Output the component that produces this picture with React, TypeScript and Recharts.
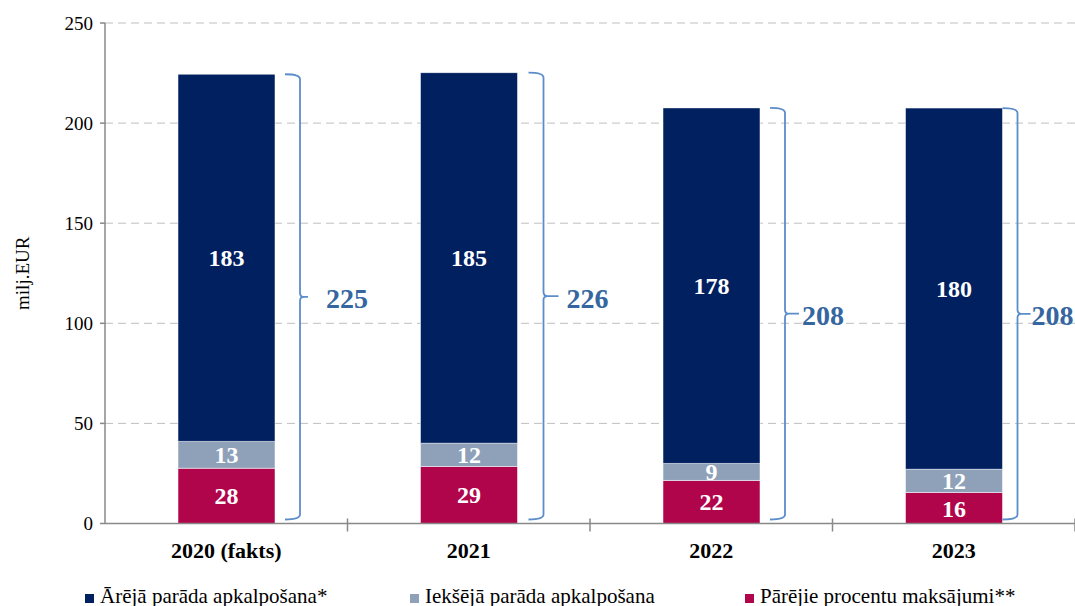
import React from 'react';
import { BarChart, Bar, XAxis, YAxis, CartesianGrid, LabelList } from 'recharts';

// ---- data ----
const categories = ['2020 (fakts)', '2021', '2022', '2023'];
const externalDebt = [183.4, 185.1, 177.6, 180.4]; // Ārējā parāda apkalpošana*
const domesticDebt = [13.4, 11.6, 8.5, 11.6]; // Iekšējā parāda apkalpošana
const otherInterest = [27.6, 28.5, 21.5, 15.5]; // Pārējie procentu maksājumi**
const totals = [225, 226, 208, 208];
const yTicks = [0, 50, 100, 150, 200, 250];

const seriesNames = [
  'Ārējā parāda apkalpošana*',
  'Iekšējā parāda apkalpošana',
  'Pārējie procentu maksājumi**',
];

// ---- style / layout ----
const COLORS = ['#002060', '#8EA1B9', '#B0054B'];
const FONT = 'Liberation Serif, serif';
const W = 1075;
const H = 606;
const PLOT_LEFT = 105;
const PLOT_TOP = 23;
const XAXIS_H = 82.5;
const BAND = (W - PLOT_LEFT) / categories.length;
// brace layout per category: [gap from bar, tip length, label gap]
const BRACE = [
  [10, 8, 18],
  [11, 15, 8],
  [10, 14, 3],
  [0, 13, 1],
];

const data = categories.map((c, i) => ({
  name: c,
  ext: externalDebt[i],
  dom: domesticDebt[i],
  oth: otherInterest[i],
}));

const roundFmt = (v: any) => Math.round(Number(v));

const BraceLabel = (props: any) => {
  const { x, y, width, height, index } = props;
  const ppu = height / externalDebt[index];
  const zeroY = y + height + (domesticDebt[index] + otherInterest[index]) * ppu;
  const [gap, tip, lgap] = BRACE[index];
  const x0 = x + width + gap;
  const xv = x0 + 15;
  const xt = xv + tip;
  const yTop = y;
  const yBot = zeroY - 4;
  const mid = (yTop + yBot) / 2;
  const r = 5;
  const d = `M${x0},${yTop} Q${xv},${yTop} ${xv},${yTop + r} L${xv},${mid - 4} Q${xv},${mid} ${xv + 4},${mid} L${xt},${mid} M${xv + 4},${mid} Q${xv},${mid} ${xv},${mid + 4} L${xv},${yBot - r} Q${xv},${yBot} ${x0},${yBot}`;
  return (
    <g>
      <path d={d} fill="none" stroke="#5B8DCB" strokeWidth={1.8} />
      <text
        x={xt + lgap}
        y={mid + 2}
        dominantBaseline="central"
        fontFamily={FONT}
        fontWeight="bold"
        fontSize={28}
        fill="#35669F"
      >
        {totals[index]}
      </text>
    </g>
  );
};

const XTick = (props: any) => {
  const { x, y, payload } = props;
  const bx = x + BAND / 2;
  return (
    <g>
      <line x1={bx} x2={bx} y1={y - 5} y2={y + 8} stroke="#898989" strokeWidth={1.5} />
      <text
        x={x}
        y={y + 34}
        textAnchor="middle"
        fontFamily={FONT}
        fontWeight="bold"
        fontSize={22}
        fill="#000"
      >
        {payload.value}
      </text>
    </g>
  );
};

const YTick = (props: any) => {
  const { x, y, payload } = props;
  return (
    <text
      x={x}
      y={y}
      textAnchor="end"
      dominantBaseline="central"
      fontFamily={FONT}
      fontSize={19}
      fill="#000"
    >
      {payload.value}
    </text>
  );
};

const YLabel = (props: any) => {
  const vb = props.viewBox || {};
  const cy = (vb.y ?? PLOT_TOP) + (vb.height ?? 500) / 2;
  return (
    <text
      x={22}
      y={cy}
      transform={`rotate(-90, 22, ${cy})`}
      textAnchor="middle"
      dominantBaseline="central"
      fontFamily={FONT}
      fontSize={19}
      fill="#000"
    >
      milj.EUR
    </text>
  );
};

const legendX = [85, 410, 745];

export default function App() {
  return (
    <div style={{ position: 'absolute', left: 0, top: 0, width: W, height: H, background: '#fff', fontFamily: FONT }}>
      <BarChart
        width={W}
        height={H}
        data={data}
        margin={{ top: PLOT_TOP, right: 0, bottom: 0, left: 0 }}
        barSize={97}
        style={{ fontFamily: FONT }}
      >
        <CartesianGrid vertical={false} stroke="#BFBFBF" strokeDasharray="8 5" />
        <XAxis
          dataKey="name"
          height={XAXIS_H}
          tickLine={false}
          tickSize={0}
          tickMargin={0}
          axisLine={{ stroke: '#898989', strokeWidth: 1.5 }}
          tick={<XTick />}
          interval={0}
        />
        <YAxis
          width={PLOT_LEFT}
          domain={[0, 250]}
          ticks={yTicks}
          interval={0}
          tickSize={5}
          tickMargin={7}
          axisLine={{ stroke: '#898989', strokeWidth: 1.5 }}
          tickLine={{ stroke: '#898989', strokeWidth: 1.5 }}
          tick={<YTick />}
          label={<YLabel />}
        />
        <Bar dataKey="oth" stackId="a" fill={COLORS[2]} stroke="#ffffff" strokeOpacity={0.5} isAnimationActive={false}>
          <LabelList dataKey="oth" position="center" formatter={roundFmt} fill="#fff" fontFamily={FONT} fontWeight="bold" fontSize={24} />
        </Bar>
        <Bar dataKey="dom" stackId="a" fill={COLORS[1]} stroke="#ffffff" strokeOpacity={0.5} isAnimationActive={false}>
          <LabelList dataKey="dom" position="center" formatter={roundFmt} fill="#fff" fontFamily={FONT} fontWeight="bold" fontSize={24} />
        </Bar>
        <Bar dataKey="ext" stackId="a" fill={COLORS[0]} stroke="#ffffff" strokeOpacity={0.5} isAnimationActive={false}>
          <LabelList dataKey="ext" position="center" formatter={roundFmt} fill="#fff" fontFamily={FONT} fontWeight="bold" fontSize={24} />
          <LabelList dataKey="ext" content={<BraceLabel />} />
        </Bar>
      </BarChart>
      {seriesNames.map((n, i) => (
        <div
          key={n}
          style={{
            position: 'absolute',
            left: legendX[i],
            top: 584,
            display: 'flex',
            alignItems: 'center',
            fontFamily: FONT,
            fontSize: 21,
            lineHeight: '24px',
            color: '#000',
            whiteSpace: 'nowrap',
          }}
        >
          <span style={{ display: 'inline-block', width: 9, height: 9, background: COLORS[i], marginRight: 6, marginTop: 4 }} />
          {n}
        </div>
      ))}
    </div>
  );
}
